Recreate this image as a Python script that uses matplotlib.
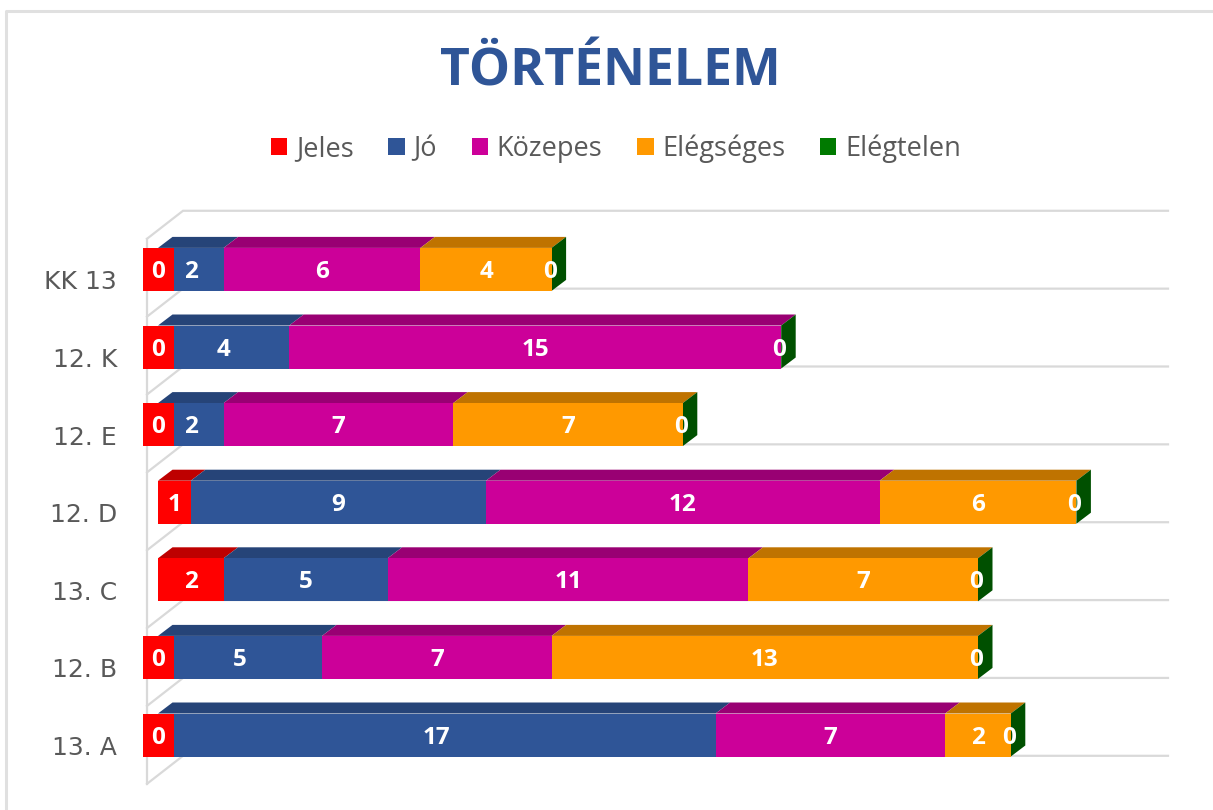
import matplotlib
matplotlib.use("Agg")
import matplotlib.pyplot as plt
from matplotlib.patches import Polygon, Patch
from matplotlib.lines import Line2D

categories = ["KK 13", "12. K", "12. E", "12. D", "13. C", "12. B", "13. A"]
series_names = ["Jeles", "Jó", "Közepes", "Elégséges", "Elégtelen"]
jeles = [0, 0, 0, 1, 2, 0, 0]
jo = [2, 4, 2, 9, 5, 5, 17]
kozepes = [6, 15, 7, 12, 11, 7, 7]
elegseges = [4, 0, 7, 6, 7, 13, 2]
elegtelen = [0, 0, 0, 0, 0, 0, 0]
series = [jeles, jo, kozepes, elegseges, elegtelen]

front = ["#FF0000", "#2F5597", "#CC0099", "#FF9900", "#007A00"]
top = ["#BE0000", "#264478", "#990073", "#BF7300", "#005000"]

W, H = 1213, 810
PX, PY = 32.8, 77.6   # pixels per value unit / per category
X0, Y0 = 158, 735     # pixel position of value 0 / of the lowest bar's centre
fig = plt.figure(figsize=(W / 100, H / 100), dpi=100)
ax = fig.add_axes([0, 0, 1, 1])
ax.set_xlim(-X0 / PX, (W - X0) / PX)
ax.set_ylim((Y0 - H) / PY, Y0 / PY)
ax.axis("off")

grey = "#D9D9D9"
font = "Open Sans"
label_drop = 2.5 / PY
label_size = 17.5

# figure border
fig.add_artist(Line2D([6 / W, 6 / W, 1], [0, 1 - 11 / H, 1 - 11 / H], color="#E0E0E0", lw=2.2))

# walls and grid
n = len(categories)
shift = 10 / PY
wall_x = -11 / PX
ddx, ddy = 36 / PX, 28 / PY
x_right = (1168 - X0) / PX
grid_step = 77.86 / PY
for b in range(n + 1):
    yb = -0.5 - shift + b * grid_step
    ax.plot([wall_x, wall_x + ddx, x_right], [yb, yb + ddy, yb + ddy], color=grey, lw=1.6, zorder=1, solid_joinstyle="miter")
ax.plot([wall_x, wall_x], [-0.5 - shift, -0.5 - shift + n * grid_step], color=grey, lw=1.6, zorder=1)

# bars
bh = 43 / PY
dx, dy = 14.5 / PX, 11 / PY
for r in range(n):
    y = n - 1 - r
    left = 0
    for s, vals in enumerate(series):
        v = vals[r]
        ax.barh(y, v, left=left, height=bh, color=front[s], lw=0, zorder=3)
        if v > 0:
            ax.add_patch(Polygon([(left, y + bh / 2), (left + v, y + bh / 2),
                                  (left + v + dx, y + bh / 2 + dy), (left + dx, y + bh / 2 + dy)],
                                 closed=True, fc=top[s], lw=0, zorder=2.5))
        left += v
    # end cap carries the colour of the last (zero-width) series
    ax.add_patch(Polygon([(left, y - bh / 2), (left + dx, y - bh / 2 + dy),
                          (left + dx, y + bh / 2 + dy), (left, y + bh / 2)],
                         closed=True, fc=top[4], lw=0, zorder=2.5))
    # labels
    left = 0
    for s, vals in enumerate(series):
        v = vals[r]
        if s == 0 and v == 0:
            w = 31 / PX
            ax.barh(y, w, left=-w / 2, height=bh, color=front[0], lw=0, zorder=4)
            ax.text(0, y - label_drop, "0", color="white", fontsize=label_size, fontweight="bold", family=font,
                    ha="center", va="center", zorder=5)
        elif s == 3 and v == 0:
            pass
        else:
            xc = left + v / 2 if v else left - 2 / PX
            ax.text(xc, y - label_drop, str(v), color="white", fontsize=label_size, fontweight="bold", family=font,
                    ha="center", va="center", zorder=5)
        left += v
    ax.text(-41 / PX, y - shift - 3 / PY, categories[r], color="#595959", fontsize=18, family="DejaVu Sans",
            ha="right", va="center")

# title and legend
ax.text((610 - X0) / PX, (Y0 - 85) / PY, "TÖRTÉNELEM", color="#2F5597", fontsize=37.3, fontweight="bold",
        family=font, ha="center", va="baseline")
handles = [Patch(fc=c, lw=0) for c in front]
leg = ax.legend(handles, series_names, ncol=5, frameon=False, loc="center",
                bbox_to_anchor=(616 / W, 1 - 149 / H), bbox_transform=fig.transFigure,
                prop={"family": font, "size": 19.5}, labelcolor="#595959",
                handlelength=0.6, handleheight=0.6, handletextpad=0.33, columnspacing=1.28,
                borderpad=0, borderaxespad=0)
fig.savefig("out.png", dpi=100)
